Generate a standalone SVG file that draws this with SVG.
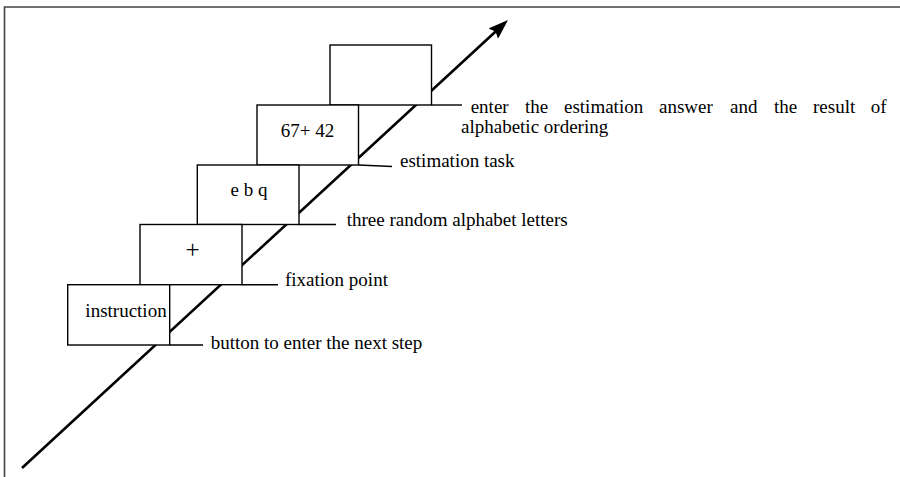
<svg xmlns="http://www.w3.org/2000/svg" width="900" height="477" viewBox="0 0 900 477">
<style>
.frame{stroke:#444;stroke-width:1.6;fill:none}
.box{fill:#fff;stroke:#000;stroke-width:1.4}
.lead{stroke:#000;stroke-width:1.4;fill:none}
.axis{stroke:#000;stroke-width:2.6;fill:none}
text{font-family:"Liberation Serif","Times New Roman",serif;font-size:19px;fill:#000}
</style>
<defs>
<marker id="ah" viewBox="0 0 20 14" refX="5" refY="7" markerWidth="20" markerHeight="14" markerUnits="userSpaceOnUse" orient="auto">
<path d="M0,0 L20,7 L0,14 L3,7 z" fill="#000"/>
</marker>
</defs>
<rect width="900" height="477" fill="#fff"/>
<path class="frame" d="M4.5,477 V7 H900"/>
<g id="connectors">
<line class="axis" x1="22" y1="468" x2="497" y2="30.2" marker-end="url(#ah)"/>
<line class="lead" x1="431.5" y1="105" x2="462" y2="105"/>
<line class="lead" x1="358.5" y1="165" x2="392" y2="166.5"/>
<line class="lead" x1="299" y1="224.5" x2="336" y2="224.5"/>
<line class="lead" x1="242" y1="284.7" x2="278" y2="284.7"/>
<line class="lead" x1="169.7" y1="345" x2="203" y2="345"/>
</g>
<g id="box5">
<rect class="box" x="330" y="45" width="101.5" height="60"/>
</g>
<g id="box4">
<rect class="box" x="257" y="105" width="101.5" height="60"/>
<text x="307.5" y="137" text-anchor="middle">67+ 42</text>
</g>
<g id="box3">
<rect class="box" x="197.3" y="165" width="101.7" height="59.5"/>
<text x="249" y="196" text-anchor="middle">e b q</text>
</g>
<g id="box2">
<rect class="box" x="140" y="224.5" width="102" height="60.2"/>
<text x="192.5" y="257.5" text-anchor="middle" style="font-size:25px">+</text>
</g>
<g id="box1">
<rect class="box" x="67.7" y="284.7" width="102" height="60.3"/>
<text x="126" y="316.5" text-anchor="middle">instruction</text>
</g>
<g id="labels">
<text y="113"><tspan x="470.7">enter</tspan><tspan x="525">the</tspan><tspan x="564">estimation</tspan><tspan x="659">answer</tspan><tspan x="730">and</tspan><tspan x="774">the</tspan><tspan x="813">result</tspan><tspan x="870.7">of</tspan></text>
<text x="461" y="133">alphabetic ordering</text>
<text x="400" y="167">estimation task</text>
<text x="346.7" y="226">three random alphabet letters</text>
<text x="285" y="285.5">fixation point</text>
<text x="210.7" y="349">button to enter the next step</text>
</g>
</svg>
